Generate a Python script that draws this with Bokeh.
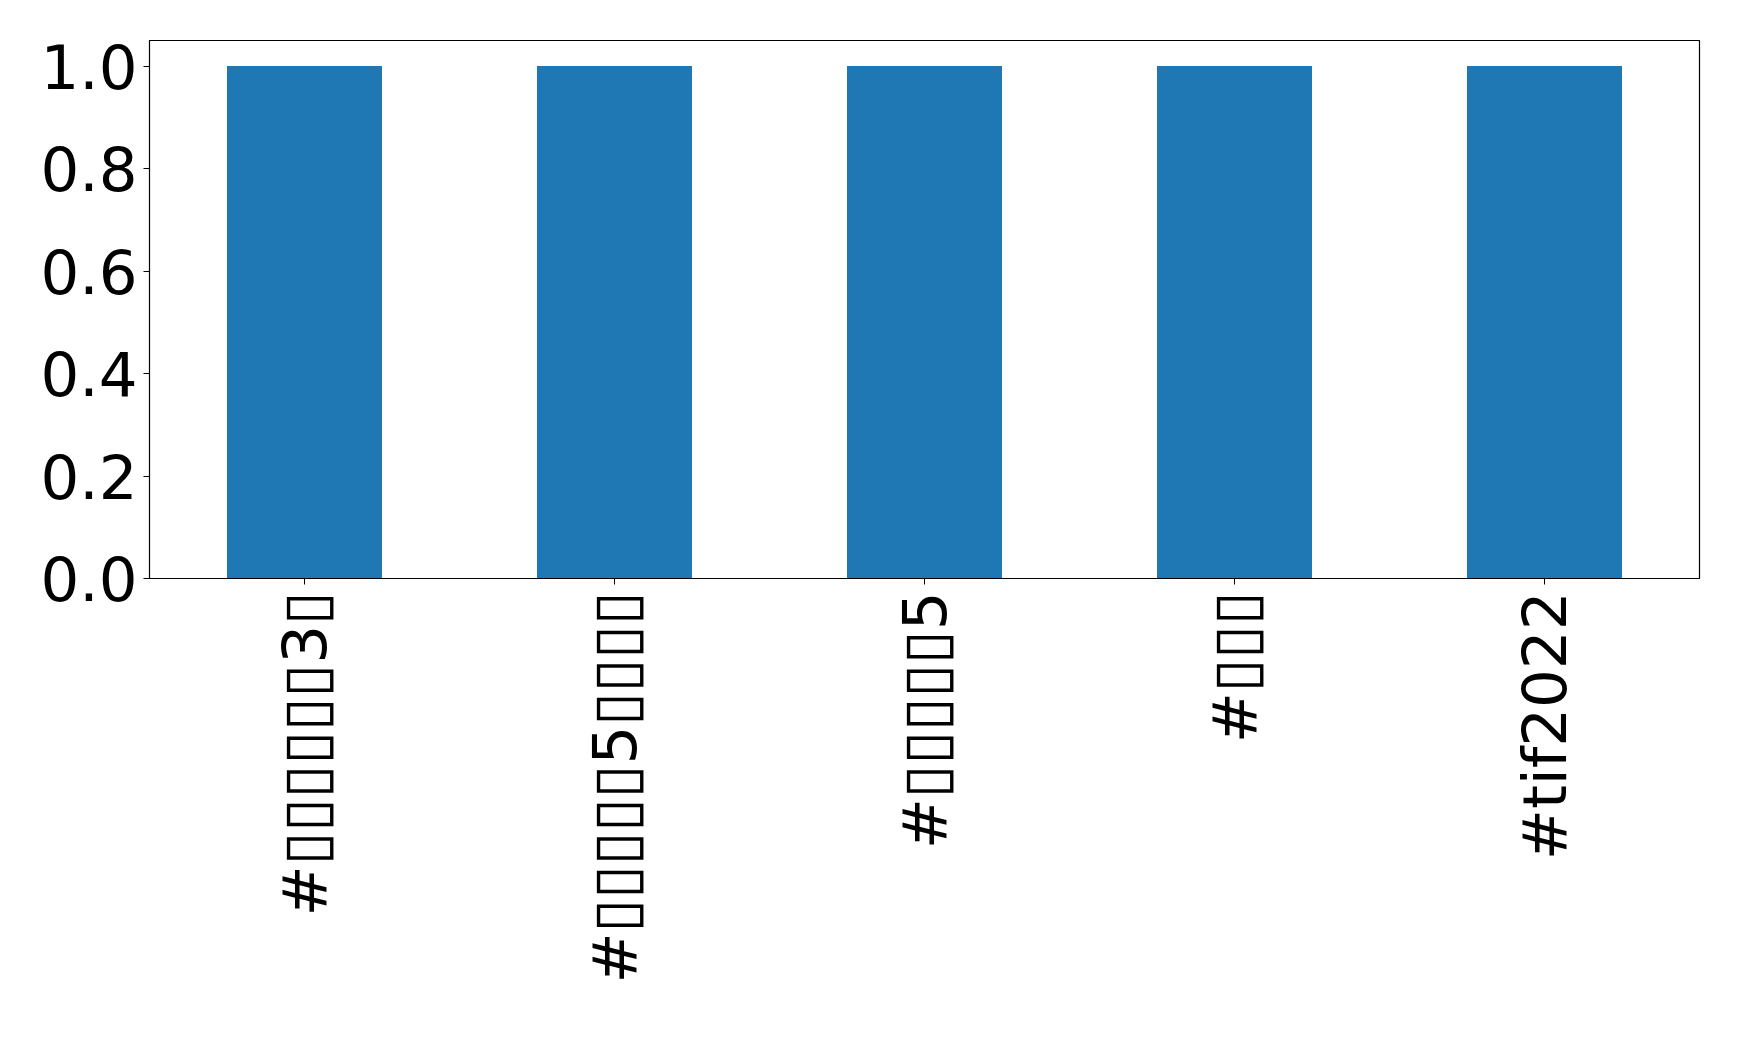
from bokeh.plotting import figure
from bokeh.models import FactorRange, Range1d, FixedTicker, NumeralTickFormatter
from bokeh.embed import file_html
from bokeh.resources import INLINE

categories = ["#▯▯▯▯▯▯3▯", "#▯▯▯▯▯5▯▯▯▯", "#▯▯▯▯▯5", "#▯▯▯", "#tif2022"]
counts = [1, 1, 1, 1, 1]
y_ticks = [0.0, 0.2, 0.4, 0.6, 0.8, 1.0]

p = figure(
    x_range=FactorRange(factors=categories, range_padding=0),
    y_range=Range1d(0, 1.05),
    width=1720, height=1040,
    output_backend="svg", toolbar_location=None,
    min_border_left=149, min_border_top=40, min_border_right=21, min_border_bottom=462,
)
p.vbar(x=categories, top=counts, width=0.5, color="#1f77b4", line_color=None)

p.xgrid.visible = False
p.ygrid.visible = False
p.outline_line_color = "black"
p.outline_line_width = 1.2
p.background_fill_color = "white"
p.border_fill_color = "white"

for ax in (p.xaxis, p.yaxis):
    ax.axis_line_color = "black"
    ax.major_tick_line_color = "black"
    ax.major_tick_out = 6
    ax.major_tick_in = 0
    ax.minor_tick_line_color = None
    ax.major_label_text_font = "DejaVu Sans"
    ax.major_label_text_font_size = "61px"
    ax.major_label_text_color = "black"

p.yaxis.ticker = FixedTicker(ticks=y_ticks)
p.yaxis.formatter = NumeralTickFormatter(format="0.0")
p.yaxis.major_label_standoff = 6
p.xaxis.major_label_orientation = 1.5707963
p.xaxis.major_label_standoff = 7

open("out.html", "w").write(file_html(p, INLINE))
